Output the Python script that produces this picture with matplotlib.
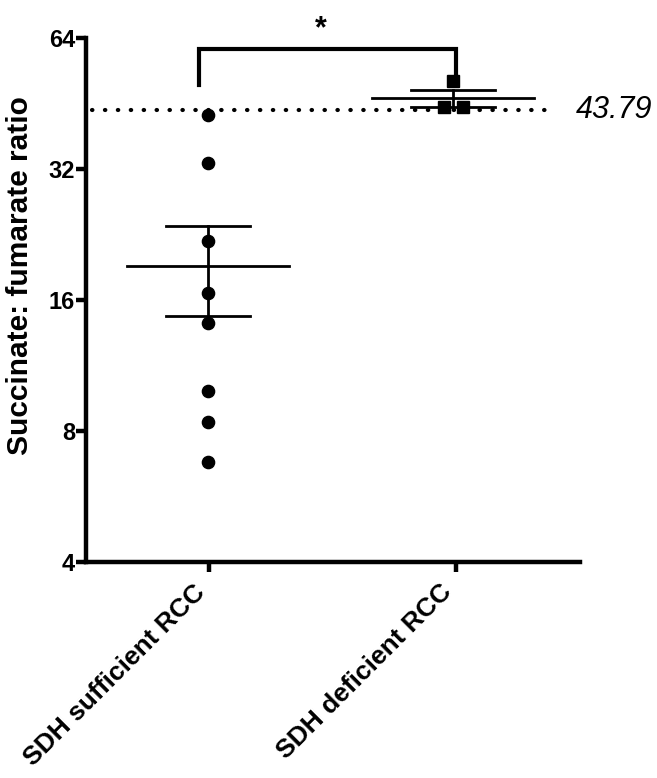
import numpy as np
import matplotlib
matplotlib.use("Agg")
import matplotlib.pyplot as plt
import matplotlib.transforms as mtransforms

plt.rcParams['font.family'] = ['Liberation Sans', 'DejaVu Sans']

categories = ["SDH sufficient RCC", "SDH deficient RCC"]
sufficient = [42.6, 33.0, 21.9, 16.6, 14.2, 9.9, 8.4, 6.8]
deficient = [50.9, 44.4, 44.4]
deficient_jitter = [0.0, -0.037, 0.04]
threshold = 43.79
yticks = [4, 8, 16, 32, 64]

fig = plt.figure(figsize=(6.57, 7.78), dpi=100)
ax = fig.add_axes([86/657, 1-562/778, (580-86)/657, (562-38)/778])

ax.set_yscale('log', base=2)
ax.set_ylim(4, 64)
ax.set_xlim(0.502, 2.518)

# threshold dotted line
ax.plot([0.525, 2.41], [threshold, threshold], color='black', lw=3.0,
        linestyle=(0, (0.1, 3.0)), dash_capstyle='round', zorder=1, clip_on=False)
ax.text(2.5, threshold, "43.79", fontsize=22, style='italic', va='center', ha='left')

groups = [sufficient, deficient]
for i, vals in enumerate(groups):
    x = i + 1
    v = np.array(vals)
    m = v.mean()
    sem = v.std(ddof=1) / np.sqrt(len(v))
    ax.plot([x - 0.33, x + 0.33], [m, m], color='black', lw=2.0, zorder=3)
    ax.plot([x - 0.17, x + 0.17], [m + sem, m + sem], color='black', lw=2.0, zorder=3)
    ax.plot([x - 0.17, x + 0.17], [m - sem, m - sem], color='black', lw=2.0, zorder=3)
    ax.plot([x, x], [m - sem, m + sem], color='black', lw=2.0, zorder=3)

ax.plot([1] * len(sufficient), sufficient, 'o', color='black', ms=8.8, zorder=4)
ax.plot([2 + j for j in deficient_jitter], deficient, 's', color='black', ms=8.5, zorder=4)

# significance bracket
ax.plot([0.963, 0.963, 2.01, 2.01], [49.9, 60.4, 60.4, 51.5], color='black', lw=3.0,
        solid_joinstyle='miter', clip_on=False, zorder=5)
ax.text(1.46, 67.0, "*", fontsize=22, fontweight='bold', ha='center', va='center')

for s in ['top', 'right']:
    ax.spines[s].set_visible(False)
for s in ['left', 'bottom']:
    ax.spines[s].set_linewidth(3.2)

ax.set_yticks(yticks)
ax.set_yticklabels([str(t) for t in yticks], fontsize=17, fontweight='bold')
ax.minorticks_off()
ax.set_xticks([1.005, 2.012])
ax.set_xticklabels(categories, fontsize=19, fontweight='bold', rotation=45,
                   ha='right', va='center', rotation_mode='anchor')
ax.tick_params(axis='y', length=7, width=3.2, pad=1)
ax.tick_params(axis='x', length=7, width=3.2, pad=12)
offset = mtransforms.ScaledTranslation(-6/72, 0, fig.dpi_scale_trans)
for lbl in ax.get_xticklabels():
    lbl.set_transform(lbl.get_transform() + offset)

fig.text(20/657, 1-276/778, "Succinate: fumarate ratio", rotation=90, fontsize=21.5,
         fontweight='bold', ha='center', va='center')

fig.savefig("out.png", dpi=100)
